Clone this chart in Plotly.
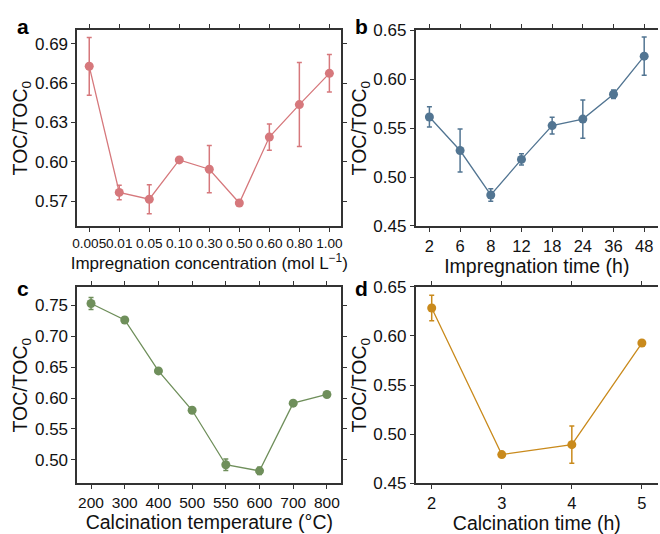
import plotly.graph_objects as go

# Panel a
conc_labels = ["0.005", "0.01", "0.05", "0.10", "0.30", "0.50", "0.60", "0.80", "1.00"]
conc_vals = [0.6728, 0.5766, 0.5714, 0.6014, 0.5943, 0.5685, 0.6188, 0.6436, 0.6674]
conc_err = [0.022, 0.0055, 0.011, 0.001, 0.018, 0.001, 0.010, 0.032, 0.0143]

# Panel b
imp_time_labels = ["2", "6", "8", "12", "18", "24", "36", "48"]
imp_time_vals = [0.5614, 0.5271, 0.4817, 0.5180, 0.5526, 0.5592, 0.5846, 0.6235]
imp_time_err = [0.0103, 0.022, 0.0064, 0.0057, 0.0085, 0.0195, 0.0043, 0.0196]

# Panel c
temp_labels = ["200", "300", "400", "500", "550", "600", "700", "800"]
temp_vals = [0.7526, 0.7260, 0.6438, 0.5802, 0.4922, 0.4823, 0.5917, 0.6057]
temp_err = [0.0097, 0.0045, 0.0015, 0.0015, 0.0094, 0.006, 0.0012, 0.0012]

# Panel d
calc_time = [2, 3, 4, 5]
calc_time_vals = [0.6284, 0.4794, 0.4895, 0.5928]
calc_time_err = [0.013, 0.0012, 0.019, 0.0012]

col_a = "#d6787c"
col_b = "#527592"
col_c = "#6f8f5b"
col_d = "#c98a1c"

FONT = "Arial, Liberation Sans, sans-serif"
fig = go.Figure()

def add(x, y, e, color, xa, ya):
    fig.add_trace(go.Scatter(
        x=x, y=y, mode="lines+markers",
        line=dict(color=color, width=1.3),
        marker=dict(color=color, size=9),
        error_y=dict(type="data", array=e, visible=True, color=color, thickness=1.5, width=2.5),
        xaxis=xa, yaxis=ya, showlegend=False,
    ))

add(conc_labels, conc_vals, conc_err, col_a, "x", "y")
add(imp_time_labels, imp_time_vals, imp_time_err, col_b, "x2", "y2")
add(temp_labels, temp_vals, temp_err, col_c, "x3", "y3")
add(calc_time, calc_time_vals, calc_time_err, col_d, "x4", "y4")

W, H = 660, 534
def dx(a, b):
    return [a / W, min(b / W, 1.0)]
def dy(top, bottom):
    return [1 - bottom / H, 1 - top / H]

TICK = dict(size=17, color="#111", family=FONT)
XTICK = dict(size=16.5, color="#111", family=FONT)
TITLE = dict(size=19.5, color="#111", family=FONT)
axcommon = dict(showline=True, linecolor="#333333", linewidth=1.5, ticks="outside",
                ticklen=4, tickwidth=1.2, tickcolor="#333333", showgrid=False, zeroline=False,
                tickfont=TICK)
xcommon = {**axcommon, "tickfont": XTICK}

ytitle = "TOC/TOC<sub>0</sub>"

fig.update_layout(
    width=W, height=H, margin=dict(l=0, r=0, t=0, b=0),
    paper_bgcolor="white", plot_bgcolor="white",
    font=dict(family=FONT, color="#111"),
    xaxis=dict(**{**axcommon, "tickfont": dict(size=13.6, color="#111", family=FONT)},
               domain=dx(73, 340), anchor="y", type="category", range=[-0.4, 8.4],
               mirror="ticks", tickangle=0,
               title=dict(text="Impregnation concentration (mol L<sup>−1</sup>)", standoff=3,
                          font=dict(size=17, color="#111", family=FONT))),
    yaxis=dict(**axcommon, domain=dy(22, 225), anchor="x", range=[0.551, 0.7003],
               tickvals=[0.57, 0.60, 0.63, 0.66, 0.69], tickformat=".2f", mirror="ticks",
               title=dict(text=ytitle, standoff=2, font=TITLE)),
    xaxis2=dict(**xcommon, domain=dx(415, 662), anchor="y2", type="category", range=[-0.45, 7.45],
                mirror="ticks", tickangle=0,
                title=dict(text="Impregnation time (h)", standoff=2, font=TITLE)),
    yaxis2=dict(**axcommon, domain=dy(22, 225), anchor="x2", range=[0.45, 0.65],
                tickvals=[0.45, 0.50, 0.55, 0.60, 0.65], tickformat=".2f",
                title=dict(text=ytitle, standoff=2, font=TITLE)),
    xaxis3=dict(**{**axcommon, "tickfont": dict(size=15.5, color="#111", family=FONT)},
                domain=dx(73, 340), anchor="y3", type="category", range=[-0.41, 7.43],
                mirror="ticks", tickangle=0,
                title=dict(text="Calcination temperature (°C)", standoff=0, font=TITLE)),
    yaxis3=dict(**axcommon, domain=dy(288, 492), anchor="x3", range=[0.4619, 0.7797],
                tickvals=[0.50, 0.55, 0.60, 0.65, 0.70, 0.75], tickformat=".2f", mirror="ticks",
                title=dict(text=ytitle, standoff=2, font=TITLE)),
    xaxis4=dict(**xcommon, domain=dx(415, 662), anchor="y4", range=[1.77, 5.23],
                tickvals=[2, 3, 4, 5], mirror="ticks", tickangle=0,
                title=dict(text="Calcination time (h)", standoff=0, font=TITLE)),
    yaxis4=dict(**axcommon, domain=dy(288, 492), anchor="x4", range=[0.45, 0.65],
                tickvals=[0.45, 0.50, 0.55, 0.60, 0.65], tickformat=".2f",
                title=dict(text=ytitle, standoff=2, font=TITLE)),
)

for txt, x, y in [("a", 10, 18), ("b", 352, 18), ("c", 10, 290), ("d", 352, 290)]:
    fig.add_annotation(text="<b>%s</b>" % txt, x=x / W, y=1 - y / H, xref="paper", yref="paper",
                       showarrow=False, xanchor="left", yanchor="middle",
                       font=dict(size=21, color="#000", family=FONT))

fig.write_html("out.html")
